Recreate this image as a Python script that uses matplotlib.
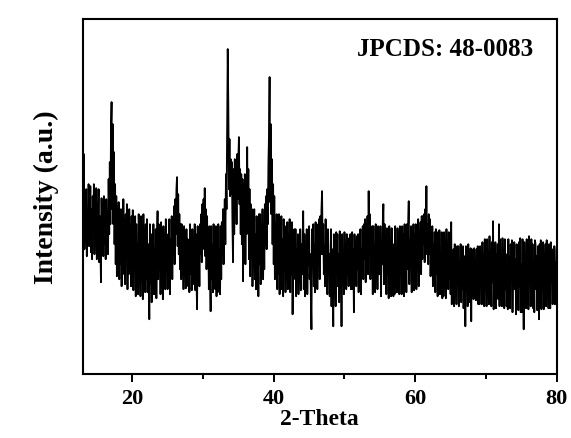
import numpy as np
import matplotlib
matplotlib.use("Agg")
import matplotlib.pyplot as plt

# ---- data ----
theta_start = 13.0          # first 2-theta value (deg)
theta_step = 1.0 / 12.0     # sampling step (deg)
intensity = [
    192, 140, 220, 125, 168, 150, 185, 118, 160, 135, 190, 128,   # 13
    150, 188, 122, 165, 115, 178, 145, 190, 120, 160, 138, 186,   # 14
    115, 170, 140, 185, 112, 158, 130, 92, 176, 125, 165, 118,    # 15
    178, 130, 160, 115, 175, 145, 150, 120, 195, 140, 212, 150,   # 16
    245, 272, 165, 250, 150, 222, 130, 190, 110, 178, 98, 168,    # 17
    125, 172, 95, 150, 110, 165, 88, 140, 100, 175, 118, 155,     # 18
    90, 160, 120, 170, 85, 145, 100, 165, 115, 150, 88, 158,      # 19
    105, 164, 84, 140, 112, 158, 78, 150, 95, 130, 80, 160,       # 20
    120, 150, 78, 158, 100, 135, 75, 160, 110, 145, 82, 150,      # 21
    95, 155, 82, 130, 110, 55, 150, 90, 140, 72, 125, 100,        # 22
    150, 80, 125, 100, 145, 76, 135, 163, 95, 150, 110, 140,      # 23
    80, 152, 115, 130, 75, 148, 100, 140, 85, 155, 120, 125,      # 24
    85, 140, 110, 155, 80, 135, 105, 158, 95, 145, 120, 168,      # 25
    110, 175, 140, 185, 197, 128, 180, 120, 160, 105, 150, 95,    # 26
    150, 100, 130, 85, 148, 115, 125, 86, 145, 105, 135, 88,      # 27
    120, 82, 150, 100, 135, 84, 145, 110, 128, 90, 150, 84,       # 28
    140, 95, 65, 148, 105, 135, 88, 150, 120, 160, 112, 170,      # 29
    130, 175, 125, 186, 118, 165, 105, 158, 110, 140, 85, 148,    # 30
    100, 63, 148, 95, 130, 82, 150, 110, 125, 85, 148, 78,        # 31
    135, 82, 150, 105, 125, 80, 148, 95, 152, 120, 165, 110,      # 32
    150, 175, 130, 200, 165, 245, 325, 270, 185, 235, 178, 215,   # 33
    180, 212, 150, 112, 205, 140, 215, 165, 200, 150, 220, 175,   # 34
    215, 237, 170, 205, 140, 200, 130, 195, 93, 190, 120, 200,    # 35
    110, 195, 140, 227, 150, 205, 115, 185, 98, 170, 120, 165,    # 36
    88, 150, 115, 165, 95, 140, 85, 158, 120, 135, 78, 160,       # 37
    110, 160, 90, 140, 120, 165, 95, 150, 105, 170, 130, 178,     # 38
    125, 185, 150, 210, 240, 297, 172, 250, 160, 215, 130, 190,   # 39
    110, 178, 95, 150, 120, 160, 85, 145, 100, 160, 80, 135,      # 40
    115, 158, 85, 135, 78, 155, 105, 148, 82, 130, 95, 152,       # 41
    85, 140, 110, 155, 82, 130, 100, 152, 60, 125, 95, 145,       # 42
    110, 145, 78, 125, 100, 140, 80, 118, 92, 145, 84, 130,       # 43
    100, 130, 163, 85, 140, 78, 120, 105, 145, 80, 128, 110,      # 44
    148, 95, 120, 78, 45, 145, 110, 150, 88, 130, 82, 152,        # 45
    105, 150, 85, 135, 110, 155, 95, 158, 120, 165, 183, 120,     # 46
    150, 100, 128, 88, 155, 110, 135, 80, 145, 105, 120, 78,      # 47
    100, 145, 68, 125, 95, 48, 140, 90, 120, 68, 142, 105,        # 48
    140, 88, 120, 72, 143, 100, 128, 48, 140, 95, 118, 80,        # 49
    142, 105, 125, 85, 140, 110, 118, 88, 136, 100, 140, 85,      # 50
    100, 142, 85, 125, 62, 140, 110, 130, 88, 138, 105, 140,      # 51
    82, 130, 110, 145, 80, 125, 105, 148, 95, 150, 115, 155,      # 52
    92, 150, 120, 158, 100, 183, 130, 160, 95, 140, 110, 148,     # 53
    80, 148, 105, 125, 82, 150, 110, 135, 85, 148, 100, 130,      # 54
    100, 148, 78, 130, 110, 152, 170, 90, 150, 105, 128, 80,      # 55
    146, 100, 125, 76, 148, 110, 135, 78, 146, 98, 120, 78,       # 56
    130, 80, 148, 105, 125, 82, 146, 110, 130, 80, 148, 100,      # 57
    120, 80, 148, 100, 140, 78, 150, 110, 125, 82, 150, 105,      # 58
    150, 173, 90, 135, 110, 148, 82, 130, 105, 150, 84, 140,      # 59
    105, 150, 85, 130, 110, 155, 88, 140, 115, 152, 100, 158,     # 60
    115, 158, 130, 160, 112, 165, 135, 188, 120, 150, 110, 160,   # 61
    120, 155, 98, 135, 110, 148, 88, 130, 100, 142, 82, 145,      # 62
    100, 142, 78, 125, 95, 144, 80, 120, 105, 142, 76, 130,       # 63
    78, 142, 110, 125, 76, 145, 100, 120, 85, 142, 95, 128,       # 64
    80, 152, 70, 115, 95, 125, 68, 130, 100, 110, 70, 128,        # 65
    90, 128, 68, 110, 95, 130, 72, 115, 85, 128, 66, 105,         # 66
    118, 48, 128, 90, 110, 68, 130, 95, 115, 72, 126, 53,         # 67
    125, 90, 110, 75, 126, 95, 105, 74, 125, 88, 128, 70,         # 68
    110, 70, 128, 95, 115, 70, 132, 85, 120, 68, 135, 90,         # 69
    118, 68, 135, 95, 110, 70, 138, 88, 120, 68, 132, 92,         # 70
    153, 65, 115, 90, 132, 66, 120, 95, 130, 75, 150, 68,         # 71
    135, 90, 115, 68, 136, 95, 110, 66, 135, 85, 120, 68,         # 72
    110, 65, 135, 88, 118, 66, 130, 95, 134, 62, 112, 90,         # 73
    132, 85, 115, 60, 130, 95, 120, 64, 132, 88, 136, 62,         # 74
    110, 62, 135, 90, 45, 132, 100, 118, 66, 135, 85, 120,        # 75
    65, 138, 95, 115, 68, 135, 90, 130, 66, 112, 62, 134,         # 76
    130, 85, 118, 64, 128, 95, 55, 130, 90, 134, 65, 112,         # 77
    90, 132, 65, 120, 95, 130, 68, 134, 85, 115, 66, 130,         # 78
    110, 66, 132, 92, 125, 70, 118, 88, 128, 70, 112, 90,         # 79
    125,                                                          # 80
]
x_ticks = [20, 40, 60, 80]
x_minor_ticks = [30, 50, 70]
annotation = "JPCDS: 48-0083"

two_theta = theta_start + theta_step * np.arange(len(intensity))

plt.rcParams['font.family'] = ['Liberation Serif', 'DejaVu Serif']
plt.rcParams['font.weight'] = 'bold'

fig = plt.figure(figsize=(5.71, 4.39), dpi=100)
ax = fig.add_axes([0.1448, 0.1451, 0.8302, 0.8093])

ax.plot(two_theta, intensity, color='black', lw=1.3)

ax.set_xlim(13, 80)
ax.set_ylim(0, 355)
ax.set_xticks(x_ticks)
ax.set_xticks(x_minor_ticks, minor=True)
ax.set_yticks([])
ax.tick_params(axis='x', which='major', direction='out', length=6, width=1.4,
               labelsize=16, pad=4)
ax.tick_params(axis='x', which='minor', direction='out', length=3.5, width=1.4)
for lab in ax.get_xticklabels():
    lab.set_fontweight('bold')
for sp in ax.spines.values():
    sp.set_linewidth(1.5)

ax.set_xlabel('2-Theta', fontsize=17, fontweight='bold', labelpad=0)
ax.set_ylabel('Intensity (a.u.)', fontsize=20, fontweight='bold')
ax.yaxis.set_label_coords(-0.05, 0.5)

ax.text(0.95, 0.917, annotation, transform=ax.transAxes, ha='right', va='center',
        fontsize=18, fontweight='bold')

fig.savefig('out.png', dpi=100)
